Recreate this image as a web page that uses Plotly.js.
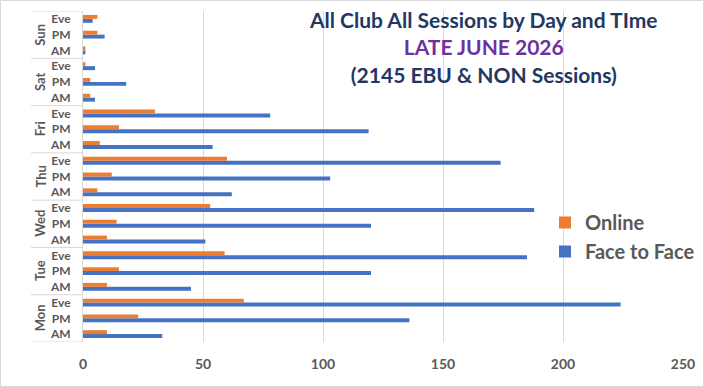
<!DOCTYPE html>
<html>
<head>
<meta charset="utf-8">
<script src="https://cdn.plot.ly/plotly-3.0.1.min.js"></script>
<style>html,body{margin:0;padding:0;background:#fff;}#chart{width:704px;height:387px;}</style>
</head>
<body>
<div id="chart"></div>
<script>
// Data (bottom to top order)
const days = ['Mon', 'Tue', 'Wed', 'Thu', 'Fri', 'Sat', 'Sun'];
const sessions = ['AM', 'PM', 'Eve'];
const onlineValues = [10, 23, 67, 10, 15, 59, 10, 14, 53, 6, 12, 60, 7, 15, 30, 3, 3, 1, 1, 6, 6];
const faceValues = [33, 136, 224, 45, 120, 185, 51, 120, 188, 62, 103, 174, 54, 119, 78, 5, 18, 5, 1, 9, 4];
const xTicks = [0, 50, 100, 150, 200, 250];
const seriesNames = ['Online', 'Face to Face'];
const titleLines = ['All Club All Sessions by Day and TIme', 'LATE JUNE 2026', '(2145 EBU &amp; NON Sessions)'];

const cats = [], sessLabels = [];
days.forEach(d => sessions.forEach(s => { cats.push(d + ' ' + s); sessLabels.push(s); }));

const FONT = 'Lato, "Open Sans", sans-serif';
const GRAY = '#595959';

const traces = [
  {type: 'bar', orientation: 'h', name: seriesNames[1], y: cats, x: faceValues,
   marker: {color: '#4472C4'}, hoverinfo: 'x'},
  {type: 'bar', orientation: 'h', name: seriesNames[0], y: cats, x: onlineValues,
   marker: {color: '#ED7D31'}, hoverinfo: 'x'}
];

const L = 83, R = 21, T = 11, B = 45;
const pw = 704 - L - R, ph = 387 - T - B;
const lineCol = '#D9D9D9';

const shapes = [];
const annotations = [];
const boxX0 = (31 - L) / pw;
for (let i = 0; i <= days.length; i++) {
  shapes.push({type: 'line', xref: 'paper', yref: 'y', x0: boxX0, x1: 0,
    y0: i * sessions.length - 0.5, y1: i * sessions.length - 0.5,
    line: {color: lineCol, width: 1}});
}
days.forEach((d, i) => {
  annotations.push({xref: 'paper', yref: 'y', x: (40 - L) / pw, y: i * sessions.length + 1,
    text: d, textangle: -90, showarrow: false, xanchor: 'center', yanchor: 'middle',
    font: {family: FONT, size: 13, color: GRAY, weight: 'bold'}});
});
// title as annotation
annotations.push({xref: 'paper', yref: 'paper', x: (483 - L) / pw, y: 1 + (T - 5) / ph,
  xanchor: 'center', yanchor: 'top', showarrow: false, align: 'center',
  text: '<span style="color:#1F3864">' + titleLines[0] + '</span><br>' +
        '<span style="color:#7030A0">' + titleLines[1] + '</span><br>' +
        '<span style="color:#1F3864">' + titleLines[2] + '</span>',
  font: {family: FONT, size: 21, weight: 'bold', color: '#1F3864'}});
// outer chart border
shapes.push({type: 'rect', xref: 'paper', yref: 'paper',
  x0: (0.5 - L) / pw, x1: (703.5 - L) / pw, y0: -(B - 0.5) / ph, y1: 1 + (T - 0.5) / ph,
  line: {color: lineCol, width: 1}});

const layout = {
  width: 704, height: 387,
  margin: {l: L, r: R, t: T, b: B, pad: 0, autoexpand: false},
  paper_bgcolor: '#ffffff', plot_bgcolor: '#ffffff',
  font: {family: FONT, color: GRAY},
  barmode: 'group', bargap: 0.5, bargroupgap: 0,
  xaxis: {
    range: [0, 250], tickvals: xTicks, showgrid: true, gridcolor: lineCol, gridwidth: 1,
    zeroline: false, showline: false, ticks: '',
    tickfont: {family: FONT, size: 14, color: GRAY, weight: 'bold'},
    ticklabelstandoff: 12, fixedrange: true, automargin: false
  },
  yaxis: {
    type: 'category', categoryorder: 'array', categoryarray: cats,
    tickvals: cats, ticktext: sessLabels, range: [-0.5, cats.length - 0.5],
    showgrid: false, zeroline: false, showline: true, linecolor: lineCol, ticks: '',
    tickfont: {family: FONT, size: 12, color: GRAY, weight: 'bold'},
    ticklabelstandoff: 9, fixedrange: true, automargin: false
  },
  legend: {
    x: (545 - L) / pw, xanchor: 'left', y: (342 - 203) / ph, yanchor: 'top',
    traceorder: 'reversed', bgcolor: 'rgba(0,0,0,0)',
    font: {family: FONT, size: 20, color: GRAY, weight: 'bold'},
    itemwidth: 30
  },
  shapes: shapes,
  annotations: annotations,
  showlegend: true
};

Plotly.newPlot('chart', traces, layout, {displayModeBar: false, staticPlot: true});
</script>
</body>
</html>
